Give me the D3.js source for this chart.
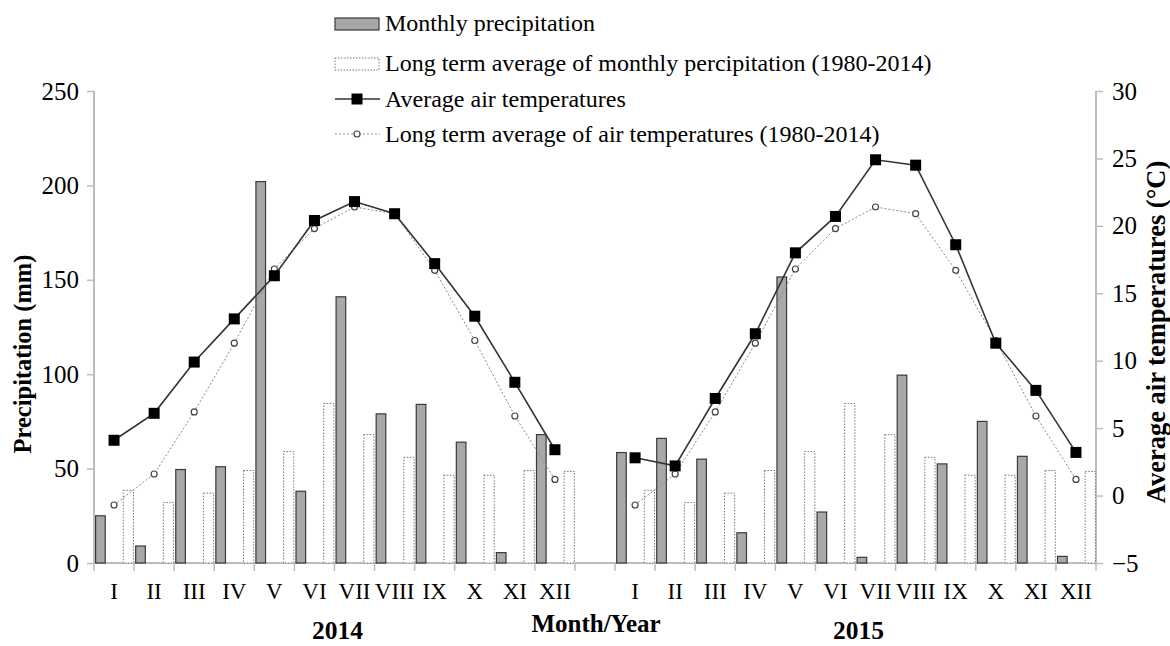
<!DOCTYPE html>
<html><head><meta charset="utf-8">
<script src="https://cdn.jsdelivr.net/npm/d3@7"></script>
<style>body{margin:0;background:#fff}svg{display:block}text{font-family:"Liberation Serif","Times New Roman",serif}</style>
</head><body><svg id="c" width="1170" height="646"></svg>
<script>
const months = ["I","II","III","IV","V","VI","VII","VIII","IX","X","XI","XII"];
const years = ["2014","2015"];
const precip2014 = [25,9,49.5,51,202,38,141,79,84,64,5.5,68];
const precip2015 = [58.5,66,55,16,151.5,27,3,99.5,52.5,75,56.5,3.5];
const precipLongTerm = [38.5,32,37,49,59,84.5,68,56,46.5,46.5,49,48.5];
const temp2014 = [4.1,6.1,9.9,13.1,16.3,20.4,21.8,20.9,17.2,13.3,8.4,3.4];
const temp2015 = [2.8,2.2,7.2,12,18,20.7,24.9,24.5,18.6,11.3,7.8,3.2];
const tempLongTerm = [-0.7,1.6,6.2,11.3,16.8,19.8,21.4,20.9,16.7,11.5,5.9,1.2];
const precipTicks = [0,50,100,150,200,250];
const tempTicks = [-5,0,5,10,15,20,25,30];

// build the 25-slot category list (one empty slot between the years)
const cats = [];
months.forEach((m,i)=>cats.push({key:"a"+i,label:m,p:precip2014[i],lp:precipLongTerm[i],t:temp2014[i],lt:tempLongTerm[i]}));
cats.push({key:"gap",label:"",p:null,lp:null,t:null,lt:null});
months.forEach((m,i)=>cats.push({key:"b"+i,label:m,p:precip2015[i],lp:precipLongTerm[i],t:temp2015[i],lt:tempLongTerm[i]}));

const svg = d3.select("#c");
const L=94, R=1096, T=91, B=563;
const x = d3.scaleBand().domain(cats.map(d=>d.key)).range([L,R]);
const bw = x.bandwidth();
const yP = d3.scaleLinear().domain([0,250]).range([B,T]);
const yT = d3.scaleLinear().domain([-5,30]).range([B,T]);

// axes
const axisCol="#bdbdbd";
const gl = svg.append("g").attr("transform",`translate(${L},0)`).call(d3.axisLeft(yP).tickValues(precipTicks).tickSize(7).tickPadding(8));
const gr = svg.append("g").attr("transform",`translate(${R},0)`).call(d3.axisRight(yT).tickValues(tempTicks).tickSize(7).tickPadding(9));
[gl,gr].forEach(g=>{
  g.select(".domain").attr("stroke",axisCol).attr("stroke-width",2).attr("d",`M0,${T}V${B}`);
  g.selectAll(".tick line").attr("stroke",axisCol).attr("stroke-width",1.5);
  g.selectAll(".tick text").attr("font-size",25).attr("fill","#000").attr("font-family","Liberation Serif");
});

// bottom axis: labels at centres, ticks at boundaries
const gb = svg.append("g").attr("transform",`translate(0,${B})`).call(d3.axisBottom(x).tickSize(0).tickPadding(20).tickFormat(k=>cats.find(c=>c.key===k).label));
gb.select(".domain").attr("stroke",axisCol).attr("stroke-width",2).attr("d",`M${L},0H${R}`);
gb.selectAll(".tick text").attr("font-size",23).attr("fill","#000").attr("font-family","Liberation Serif");
const bounds = cats.map(d=>x(d.key)).concat([R]);
svg.append("g").selectAll("line").data(bounds).join("line")
  .attr("x1",d=>d).attr("x2",d=>d).attr("y1",B).attr("y2",B+8).attr("stroke",axisCol).attr("stroke-width",1.5);

// long-term precipitation bars (white, dotted)
svg.append("g").selectAll("rect").data(cats.filter(d=>d.lp!=null)).join("rect")
  .attr("x",d=>x(d.key)+0.73*bw).attr("width",0.255*bw)
  .attr("y",d=>yP(d.lp)).attr("height",d=>B-yP(d.lp))
  .attr("fill","#fff").attr("stroke","#777").attr("stroke-width",1).attr("stroke-dasharray","1.5,1.5");
// monthly precipitation bars
svg.append("g").selectAll("rect").data(cats.filter(d=>d.p!=null)).join("rect")
  .attr("x",d=>x(d.key)+0.04*bw).attr("width",0.24*bw)
  .attr("y",d=>yP(d.p)).attr("height",d=>B-yP(d.p))
  .attr("fill","#a8a8a8").attr("stroke","#3a3a3a").attr("stroke-width",1.2);

const cx = d=>x(d.key)+bw/2;
// long-term temperature line
const lineLT = d3.line().defined(d=>d.lt!=null).x(cx).y(d=>yT(d.lt));
svg.append("path").datum(cats).attr("d",lineLT).attr("fill","none").attr("stroke","#8a8a8a").attr("stroke-width",1).attr("stroke-dasharray","2,2");
// average temperature line
const lineT = d3.line().defined(d=>d.t!=null).x(cx).y(d=>yT(d.t));
svg.append("path").datum(cats).attr("d",lineT).attr("fill","none").attr("stroke","#333").attr("stroke-width",1.6);
// markers
svg.append("g").selectAll("circle").data(cats.filter(d=>d.lt!=null)).join("circle")
  .attr("cx",cx).attr("cy",d=>yT(d.lt)).attr("r",3).attr("fill","#fff").attr("stroke","#444").attr("stroke-width",1.2);
const S=11;
svg.append("g").selectAll("rect").data(cats.filter(d=>d.t!=null)).join("rect")
  .attr("x",d=>cx(d)-S/2).attr("y",d=>yT(d.t)-S/2).attr("width",S).attr("height",S).attr("fill","#000");

// axis titles
svg.append("text").attr("transform","translate(31,354) rotate(-90)").attr("text-anchor","middle")
  .attr("font-size",24.5).attr("font-weight","bold").text("Precipitation (mm)");
svg.append("text").attr("transform","translate(1165,332) rotate(-90)").attr("text-anchor","middle")
  .attr("font-size",26.5).attr("font-weight","bold").text("Average air temperatures (°C)");
svg.append("text").attr("x",596).attr("y",632).attr("text-anchor","middle").attr("font-size",25).attr("font-weight","bold").text("Month/Year");
const yearX = [x("a0")+ (x("a11")+bw - x("a0"))/2, x("b0")+(x("b11")+bw-x("b0"))/2];
svg.append("g").selectAll("text").data(years).join("text").attr("x",(d,i)=>yearX[i]+3).attr("y",639)
  .attr("text-anchor","middle").attr("font-size",25.5).attr("font-weight","bold").text(d=>d);

// legend
const lg = svg.append("g");
const legendItems = ["Monthly precipitation","Long term average of monthly percipitation (1980-2014)","Average air temperatures","Long term average of air temperatures (1980-2014)"];
const ly = [31,71,107,142];
lg.append("rect").attr("x",335).attr("y",18).attr("width",44).attr("height",12).attr("fill","#a8a8a8").attr("stroke","#3a3a3a").attr("stroke-width",1.2);
lg.append("rect").attr("x",335).attr("y",58).attr("width",44).attr("height",12).attr("fill","#fff").attr("stroke","#777").attr("stroke-dasharray","1.5,1.5");
lg.append("line").attr("x1",335).attr("x2",380).attr("y1",99).attr("y2",99).attr("stroke","#333").attr("stroke-width",1.6);
lg.append("rect").attr("x",357-S/2).attr("y",99-S/2).attr("width",S).attr("height",S).attr("fill","#000");
lg.append("line").attr("x1",335).attr("x2",380).attr("y1",134).attr("y2",134).attr("stroke","#8a8a8a").attr("stroke-dasharray","2,2");
lg.append("circle").attr("cx",357).attr("cy",134).attr("r",3).attr("fill","#fff").attr("stroke","#444").attr("stroke-width",1.2);
lg.selectAll("text").data(legendItems).join("text").attr("x",385).attr("y",(d,i)=>ly[i])
  .attr("font-size",24).text(d=>d);
</script></body></html>
